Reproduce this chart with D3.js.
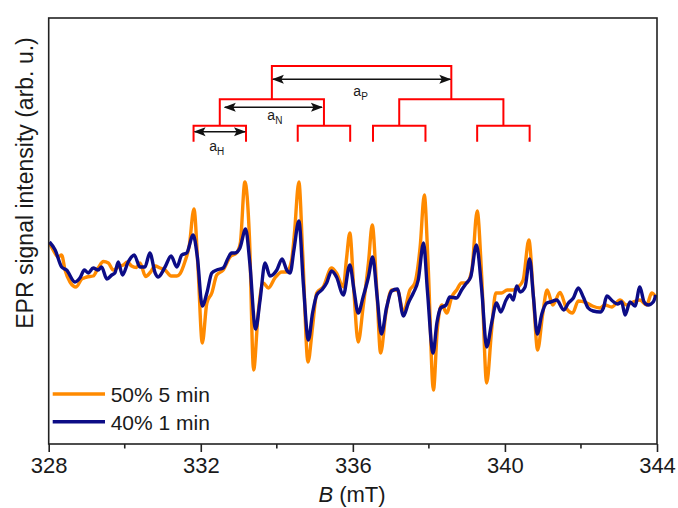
<!DOCTYPE html>
<html>
<head>
<meta charset="utf-8">
<title>EPR</title>
<script src="https://d3js.org/d3.v7.min.js"></script>
<style>
  body { margin: 0; background: #fff; }
  text { font-family: "Liberation Sans", Arial, sans-serif; fill: #1a1a1a; }
</style>
</head>
<body>
<svg width="678" height="508"></svg>
<script>
// spectra (B in mT, signal in arb. u.)
var fieldOrange = [328.02,328.12,328.25,328.34,328.43,328.56,328.72,328.87,329.00,329.17,
  329.30,329.44,329.57,329.70,329.83,329.96,330.07,330.18,330.31,330.40,
  330.55,330.68,330.80,330.93,331.06,331.22,331.37,331.45,331.58,331.70,
  331.82,331.93,332.04,332.16,332.29,332.42,332.59,332.77,332.94,333.04,
  333.16,333.28,333.39,333.51,333.64,333.78,333.95,334.13,334.26,334.39,
  334.46,334.58,334.68,334.82,334.94,335.05,335.22,335.44,335.57,335.75,
  335.83,335.92,336.03,336.14,336.27,336.41,336.51,336.63,336.73,336.87,
  337.02,337.17,337.33,337.50,337.63,337.77,337.88,337.98,338.12,338.22,
  338.34,338.47,338.60,338.73,338.86,338.99,339.13,339.27,339.39,339.52,
  339.65,339.76,339.91,340.06,340.22,340.35,340.48,340.63,340.75,340.86,
  340.99,341.11,341.26,341.45,341.62,341.78,341.93,342.13,342.30,342.50,
  342.63,342.81,343.03,343.20,343.37,343.55,343.73,343.86,343.97];
var signalOrange = [5.4,4.7,4.0,4.2,2.7,1.5,1.0,1.8,2.0,2.1,
  2.9,3.55,3.4,2.7,3.0,3.2,3.5,3.1,2.95,3.4,
  2.05,2.5,3.1,2.9,2.7,2.1,2.1,2.3,3.5,5.2,
  8.8,2.7,-4.6,-0.6,0.4,2.2,2.7,4.0,4.4,5.4,
  11.5,6.0,-7.3,-1.6,1.4,0.9,1.9,2.5,2.5,3.7,
  6.2,11.5,4.4,-6.5,-3.0,0.4,1.0,2.9,2.4,1.0,
  3.7,6.4,0.4,-4.5,-1.0,3.4,7.2,0.7,-5.6,-1.6,
  0.7,0.7,-1.5,0.7,1.4,5.0,10.2,3.2,-9.3,-3.3,
  -0.8,-1.6,0.0,0.7,1.4,1.4,2.7,8.6,2.0,-8.6,
  -3.3,0.4,0.4,0.7,0.7,1.0,1.7,5.7,0.0,-5.3,
  -1.8,0.7,-0.8,0.45,-1.15,-1.6,-0.4,-0.55,-0.9,-1.1,
  -0.8,-1.0,-0.3,-0.8,-0.5,-0.3,-0.8,0.4,0.0];

var fieldNavy = [328.02,328.17,328.34,328.47,328.69,328.82,328.94,329.04,329.17,329.30,
  329.39,329.53,329.66,329.74,329.83,329.94,330.09,330.25,330.40,330.53,
  330.66,330.80,330.88,331.06,331.22,331.37,331.50,331.63,331.80,331.91,
  332.04,332.16,332.29,332.42,332.59,332.72,332.81,332.90,333.03,333.18,
  333.29,333.44,333.56,333.69,333.82,334.00,334.14,334.26,334.35,334.45,
  334.58,334.70,334.83,334.94,335.05,335.18,335.31,335.44,335.57,335.75,
  335.92,336.03,336.14,336.27,336.41,336.52,336.64,336.75,336.89,337.02,
  337.17,337.33,337.46,337.59,337.72,337.86,337.96,338.11,338.21,338.31,
  338.45,338.55,338.73,338.86,338.99,339.10,339.25,339.39,339.52,339.65,
  339.78,339.89,340.03,340.13,340.22,340.31,340.40,340.53,340.65,340.75,
  340.85,340.97,341.10,341.20,341.36,341.55,341.67,341.80,341.93,342.06,
  342.19,342.32,342.51,342.59,342.68,342.83,342.96,343.07,343.16,343.29,
  343.42,343.55,343.66,343.77,343.90,343.97];
var signalNavy = [5.5,4.7,3.0,2.7,1.5,1.9,2.7,2.4,2.9,2.7,
  3.0,1.8,2.2,2.4,3.5,2.2,3.5,4.2,3.0,3.0,
  4.4,2.4,2.0,3.0,4.1,3.0,4.2,4.4,6.2,4.0,
  -0.9,0.4,2.4,2.7,2.9,3.9,4.4,4.4,4.9,6.8,
  3.4,-3.2,-0.3,3.4,2.1,2.7,3.8,2.7,2.4,4.7,
  7.6,1.2,-4.3,-1.6,0.2,0.7,1.4,2.6,2.0,0.2,
  3.2,0.7,-1.6,0.0,2.0,4.0,0.0,-3.7,-1.0,0.6,
  0.8,-1.9,-0.6,0.4,1.7,5.4,0.7,-5.6,-2.6,-1.1,
  -0.8,0.0,-0.1,0.7,1.4,2.0,5.2,0.7,-5.0,-2.6,
  -0.6,-1.5,-0.3,0.2,-0.3,1.1,0.5,1.0,3.8,0.0,
  -3.7,-1.7,-0.6,-0.5,-0.3,-1.3,-0.6,-0.1,0.9,0.0,
  -1.1,-1.4,-1.5,-1.1,0.1,-0.4,-0.7,-0.5,-1.8,-0.5,
  -0.9,1.0,-0.5,-0.8,-0.5,0.2];

var seriesNames = ["50% 5 min", "40% 1 min"];
var seriesColors = ["#ff8a00", "#0c0c86"];
var majorTicks = [328, 332, 336, 340, 344];
var minorTicks = [330, 334, 338, 342];

// splitting constants (mT)
var centerB = 336.23, aP = 4.72, aN = 2.74, aH = 1.38;

var svg = d3.select("svg");
var margin = {top: 18, right: 21, bottom: 64, left: 48.7};
var W = +svg.attr("width"), H = +svg.attr("height");

var x = d3.scaleLinear().domain([328, 344]).range([margin.left, W - margin.right]);
var y = d3.scaleLinear().domain([-14.7, 27.9]).range([H - margin.bottom, margin.top]);

svg.append("defs").append("clipPath").attr("id", "clip")
  .append("rect")
  .attr("x", margin.left).attr("y", margin.top)
  .attr("width", x.range()[1] - x.range()[0])
  .attr("height", y.range()[0] - y.range()[1]);

var line = d3.line()
  .x(function(d){ return x(d[0]); })
  .y(function(d){ return y(d[1]); })
  .curve(d3.curveMonotoneX);

var series = [d3.zip(fieldOrange, signalOrange), d3.zip(fieldNavy, signalNavy)];

svg.append("g").attr("clip-path", "url(#clip)")
  .selectAll("path").data(series).enter()
  .append("path")
  .attr("d", line)
  .attr("fill", "none")
  .attr("stroke", function(d, i){ return seriesColors[i]; })
  .attr("stroke-width", 3.4)
  .attr("stroke-linejoin", "round");

// frame
svg.append("rect")
  .attr("x", x.range()[0]).attr("y", y.range()[1])
  .attr("width", x.range()[1] - x.range()[0])
  .attr("height", y.range()[0] - y.range()[1])
  .attr("fill", "none").attr("stroke", "#222").attr("stroke-width", 1.6);

// x axis
var xAxis = svg.append("g").attr("transform", "translate(0," + y.range()[0] + ")");
xAxis.call(d3.axisBottom(x).tickValues(majorTicks).tickSize(8).tickSizeOuter(0)
  .tickFormat(d3.format("d")));
xAxis.select(".domain").remove();
xAxis.selectAll(".tick line").attr("stroke", "#222").attr("stroke-width", 1.6);
xAxis.selectAll(".tick text").attr("y", 13).attr("font-size", 22)
  .attr("font-family", "Liberation Sans, Arial, sans-serif").attr("fill", "#1a1a1a");
xAxis.selectAll(".minor").data(minorTicks).enter().append("line")
  .attr("x1", x).attr("x2", x).attr("y1", 0).attr("y2", 4.5)
  .attr("stroke", "#222").attr("stroke-width", 1.6);

var xl = svg.append("text").attr("x", 352).attr("y", 502)
  .attr("text-anchor", "middle").attr("font-size", 22);
xl.append("tspan").attr("font-style", "italic").text("B");
xl.append("tspan").text(" (mT)");

svg.append("text")
  .attr("transform", "translate(33,183) rotate(-90)")
  .attr("text-anchor", "middle").attr("font-size", 23)
  .text("EPR signal intensity (arb. u.)");

// legend
var leg = svg.append("g");
seriesNames.forEach(function(name, i){
  var ly = 394 + i * 27.7;
  leg.append("line").attr("x1", 52.7).attr("x2", 105).attr("y1", ly).attr("y2", ly)
    .attr("stroke", seriesColors[i]).attr("stroke-width", 3.4);
  leg.append("text").attr("x", 110.7).attr("y", ly + 8).attr("font-size", 21).text(name);
});

// splitting tree
var tree = svg.append("g").attr("fill", "none").attr("stroke", "#ff0000").attr("stroke-width", 2);
var lv = [66, 99.3, 125.7, 141.7];
function bracket(c, a, y0, y1) {
  tree.append("path").attr("d",
    "M" + x(c - a/2) + "," + y1 + "V" + y0 + "H" + x(c + a/2) + "V" + y1);
}
bracket(centerB, aP, lv[0], lv[1]);
[centerB - aP/2, centerB + aP/2].forEach(function(c1){
  bracket(c1, aN, lv[1], lv[2]);
  [c1 - aN/2, c1 + aN/2].forEach(function(c2){
    bracket(c2, aH, lv[2], lv[3]);
  });
});

svg.select("defs").selectAll("marker").data(["s", "e"]).enter().append("marker")
  .attr("id", function(d){ return "arr" + d; })
  .attr("viewBox", "0 0 12 10").attr("refX", function(d){ return d == "e" ? 11 : 1; }).attr("refY", 5)
  .attr("markerWidth", 12).attr("markerHeight", 10).attr("markerUnits", "userSpaceOnUse")
  .attr("orient", "auto-start-reverse")
  .append("path").attr("d", "M0,0.5L12,5L0,9.5L2.5,5Z").attr("fill", "#111");

function arrow(b0, b1, yy, inset0, inset1) {
  svg.append("line")
    .attr("x1", x(b0) + inset0).attr("x2", x(b1) - inset1)
    .attr("y1", yy).attr("y2", yy)
    .attr("stroke", "#111").attr("stroke-width", 1.5)
    .attr("marker-start", "url(#arre)").attr("marker-end", "url(#arre)");
}
var lP = centerB - aP/2, lN = lP - aN/2, lH = lN - aH/2;
arrow(lP, lP + aP, 79.3, 1, 1);
arrow(lN, lN + aN, 107.3, 5, 2);
arrow(lH, lH + aH, 131.7, 1, 1);

function label(xx, yy, sub) {
  var t = svg.append("text").attr("x", xx).attr("y", yy).attr("font-size", 14).attr("text-anchor", "middle");
  t.append("tspan").text("a");
  t.append("tspan").attr("font-size", 10).attr("dy", 4).text(sub);
}
label(x(centerB) - 1, 96, "P");
label(x(centerB - aP/2) + 3, 120, "N");
label(x(lH + aH/2) - 3, 151, "H");
</script>
</body>
</html>
